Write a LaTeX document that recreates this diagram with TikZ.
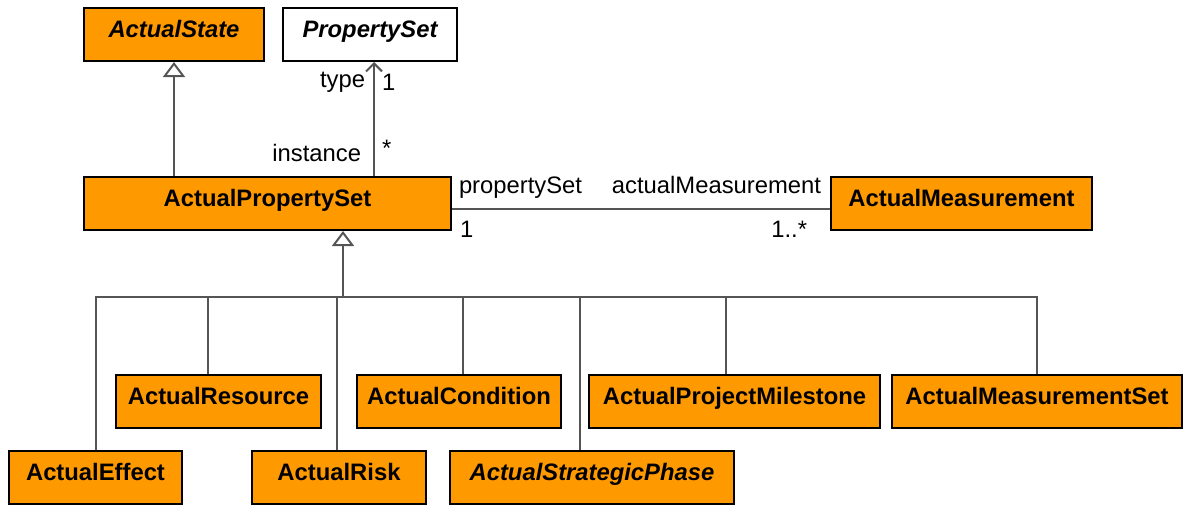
\documentclass[tikz,border=0pt]{standalone}
\usepackage{fontspec}
\setmainfont{Liberation Sans}
\usetikzlibrary{arrows.meta}
\definecolor{umlorange}{RGB}{255,153,0}
\definecolor{umlline}{RGB}{85,85,85}
\tikzset{
  cls/.style={draw=black, line width=2pt, fill=umlorange, anchor=north west,
    minimum height=53pt, inner sep=0pt, text height=17pt, text depth=12pt,
    font=\fontsize{23.8}{28}\selectfont\bfseries},
  abstract/.style={cls, font=\fontsize{23.8}{28}\selectfont\bfseries\itshape},
  link/.style={draw=umlline, line width=2pt},
  gen/.style={link, -{Triangle[open, length=15pt, width=22pt]}},
  assoc/.style={link, -{Straight Barb[length=8pt, width=16pt]}},
  role/.style={font=\fontsize{23.8}{28}\selectfont, inner sep=0pt},
}
\begin{document}
\begin{tikzpicture}[x=1pt, y=-1pt]
\useasboundingbox (0,0) rectangle (1188,504);

		\node[abstract, minimum width=180pt] (state) at (83,7) {ActualState};
		\node[abstract, fill=white, minimum width=174pt] (pset) at (282,7) {PropertySet};
		\node[cls, minimum width=367pt] (aps) at (83,176) {ActualPropertySet};
		\node[cls, minimum width=261pt] (meas) at (830,176) {ActualMeasurement};
		\node[cls, minimum width=205pt] (res) at (115,374) {ActualResource};
		\node[cls, minimum width=204pt] (cond) at (356,374) {ActualCondition};
		\node[cls, minimum width=291pt] (mile) at (588,374) {ActualProjectMilestone};
		\node[cls, minimum width=290pt] (mset) at (891,374) {ActualMeasurementSet};
		\node[cls, minimum width=173pt] (eff) at (8,450) {ActualEffect};
		\node[cls, minimum width=174pt] (risk) at (251,450) {ActualRisk};
		\node[abstract, minimum width=284pt] (phase) at (449,450) {ActualStrategicPhase};

		\coordinate (bus) at (343,297);

		\draw[gen] (aps.north -| state.south) -- (state.south);
		\draw[assoc] ([xshift=4pt]aps.north -| pset.south) --
			node[role, pos=0.2, left=12pt] {instance}
			node[role, pos=0.24, right=7pt] {*}
			node[role, pos=0.82, left=8pt] {type}
			node[role, pos=0.82, right=7pt] {1}
			([xshift=4pt]pset.south);
		\draw[link] ([yshift=-5pt]aps.east) --
			node[role, pos=0, anchor=base west, xshift=6pt, yshift=15pt] {propertySet}
			node[role, pos=0, anchor=north west, xshift=7pt, yshift=-12pt] {1}
			node[role, pos=1, anchor=base east, xshift=-8pt, yshift=15pt] {actualMeasurement}
			node[role, pos=1, anchor=north east, xshift=-22pt, yshift=-12pt] {1..*}
			([yshift=-5pt]meas.west);

		\draw[gen] (bus) -- (aps.south -| bus);
		\foreach \n/\d in {eff/0, res/-11, risk/-2, cond/4, phase/-12, mile/-9, mset/0}
			\draw[link] ([xshift=\d pt]\n.north) |- (bus);
\end{tikzpicture}
\end{document}
